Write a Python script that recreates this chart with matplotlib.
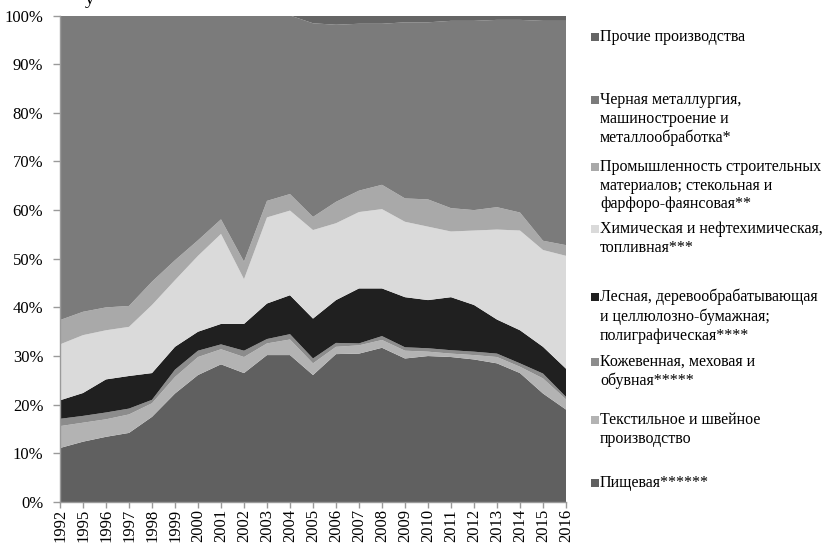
import numpy as np
import matplotlib
matplotlib.use("Agg")
import matplotlib.pyplot as plt
from matplotlib.patches import Rectangle

# ================== DATA (shares, %) ==================
years = [1992, 1995, 1996, 1997, 1998, 1999, 2000, 2001, 2002, 2003, 2004, 2005,
         2006, 2007, 2008, 2009, 2010, 2011, 2012, 2013, 2014, 2015, 2016]

food = [11.1, 12.4, 13.4, 14.2, 17.5, 22.3, 26.1, 28.3, 26.5, 30.2, 30.2, 26.1,
        30.4, 30.5, 31.7, 29.5, 30.0, 29.8, 29.3, 28.5, 26.5, 22.3, 19.0]
textile = [4.5, 3.9, 3.6, 3.8, 2.8, 3.4, 3.7, 3.1, 3.3, 2.4, 3.2, 2.4,
           1.5, 1.7, 1.6, 1.6, 0.9, 0.7, 0.9, 1.3, 1.3, 3.1, 2.1]
leather = [1.5, 1.4, 1.4, 1.2, 0.7, 1.5, 1.3, 1.0, 1.3, 0.9, 1.1, 1.0,
           0.8, 0.4, 0.8, 0.7, 0.7, 0.7, 0.7, 0.7, 0.7, 1.0, 0.5]
forest = [3.8, 4.7, 6.8, 6.7, 5.5, 4.7, 3.9, 4.2, 5.5, 7.3, 8.0, 8.2,
          8.8, 11.3, 9.8, 10.3, 9.9, 10.9, 9.6, 7.0, 6.8, 5.5, 5.8]
chemical = [11.5, 11.9, 10.1, 10.1, 14.0, 13.7, 15.6, 18.5, 9.2, 17.7, 17.4, 18.2,
            15.8, 15.7, 16.3, 15.5, 15.1, 13.5, 15.3, 18.5, 20.5, 19.9, 23.2]
building = [5.0, 4.8, 4.7, 4.3, 4.8, 4.1, 3.2, 3.0, 3.6, 3.4, 3.4, 2.7,
            4.4, 4.4, 5.0, 4.8, 5.6, 4.8, 4.2, 4.6, 3.7, 1.9, 2.2]
metal = [62.6, 60.9, 60.0, 59.7, 54.7, 50.3, 46.2, 41.9, 50.6, 38.1, 36.7, 39.8,
         36.4, 34.3, 33.1, 36.2, 36.4, 38.5, 38.9, 38.5, 39.6, 45.2, 46.1]
other = [0, 0, 0, 0, 0, 0, 0, 0, 0, 0, 0, 1.6,
         1.9, 1.7, 1.7, 1.4, 1.4, 1.1, 1.1, 0.9, 0.9, 1.1, 1.1]

labels = [
    "Пищевая******",
    "Текстильное и швейное\nпроизводство",
    "Кожевенная, меховая и\nобувная*****",
    "Лесная, деревообрабатывающая\nи целлюлозно-бумажная;\nполиграфическая****",
    "Химическая и нефтехимическая,\nтопливная***",
    "Промышленность строительных\nматериалов; стекольная и\nфарфоро-фаянсовая**",
    "Черная металлургия,\nмашиностроение и\nметаллообработка*",
    "Прочие производства",
]
colors = ["#606060", "#b3b3b3", "#8c8c8c", "#202020",
          "#dadada", "#a9a9a9", "#7b7b7b", "#656565"]

# ================== FIGURE ==================
plt.rcParams["font.family"] = ["Liberation Serif", "DejaVu Serif"]

fig = plt.figure(figsize=(8.27, 5.44), dpi=100)
ax = fig.add_axes([60 / 827, 1 - 502 / 544, 506 / 827, 486.5 / 544])

series = np.array([food, textile, leather, forest, chemical, building, metal, other])
series = series / series.sum(axis=0) * 100.0
x = np.arange(len(years))

ax.stackplot(x, series, colors=colors, linewidth=0)

ax.set_xlim(0, len(years) - 1)
ax.set_ylim(0, 100)
ax.set_xticks(x)
ax.set_xticklabels([str(y) for y in years], rotation=90, fontsize=12)
ax.set_yticks(np.arange(0, 101, 10))
ax.set_yticklabels([f"{v}%" for v in range(0, 101, 10)], fontsize=12)

for side in ["top", "right"]:
    ax.spines[side].set_visible(False)
for side in ["left", "bottom"]:
    ax.spines[side].set_color("#9a9a9a")
    ax.spines[side].set_linewidth(1.0)
ax.tick_params(axis="y", colors="#9a9a9a", labelcolor="black",
               length=5, width=1.0, direction="out", pad=7)
ax.tick_params(axis="x", colors="#9a9a9a", labelcolor="black",
               length=4, width=1.0, direction="out", pad=1)

# cropped title fragment at the very top
fig.text(85 / 827, 1 - 4 / 544, "у", fontsize=14, ha="left", va="baseline")

# ================== LEGEND (manual, top to bottom) ==================
legend_y = [37, 100, 166.7, 229, 296.7, 361.7, 420, 483]  # pixel y of first line
order = list(range(len(labels)))[::-1]
for py, k in zip(legend_y, order):
    fig.add_artist(Rectangle((591 / 827, 1 - (py + 4) / 544), 8 / 827, 8 / 544,
                             transform=fig.transFigure, fc=colors[k], ec="none"))
    fig.text(600 / 827, 1 - (py - 8) / 544, labels[k], fontsize=11.5,
             ha="left", va="top", linespacing=1.24)

fig.savefig("out.png", dpi=100)
